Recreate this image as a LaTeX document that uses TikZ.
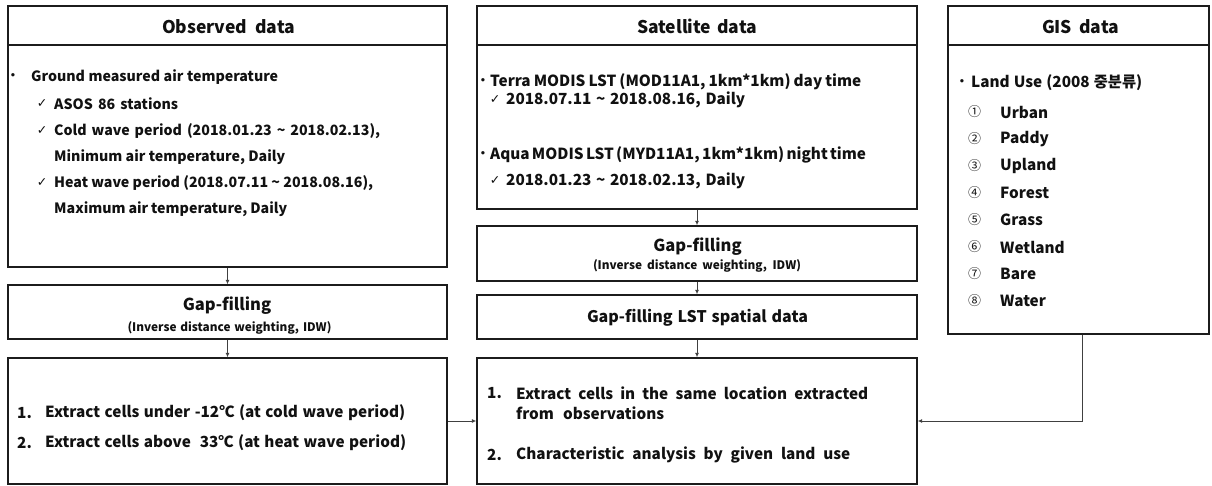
\documentclass[tikz,border=0pt]{standalone}
\usepackage{fontspec}
\setmainfont{Noto Sans CJK KR}
\newfontfamily\chk{DejaVu Sans}
\usetikzlibrary{arrows.meta}
\definecolor{ln}{HTML}{1C1C1C}
\definecolor{cn}{HTML}{404040}
\definecolor{tx}{HTML}{111111}
\newcommand{\sw}[2]{\makebox[#1pt][s]{#2}}
\begin{document}
\begin{tikzpicture}[x=1pt,y=-1pt,
  box/.style={draw=ln, line width=1.4pt, inner sep=0pt, fill=white},
  txt/.style={anchor=west, inner sep=0pt, text=tx, font=\bfseries\fontsize{14.2}{15}\selectfont},
  btxt/.style={txt, font=\bfseries\fontsize{15.3}{16}\selectfont},
  hdr/.style={inner sep=0pt, text=tx, font=\bfseries\fontsize{17.5}{18}\selectfont},
  gaptitle/.style={inner sep=0pt, text=tx, font=\bfseries\fontsize{16.5}{17}\selectfont},
  sub/.style={inner sep=0pt, text=tx, font=\bfseries\fontsize{11.8}{12}\selectfont},
  chkmark/.style={anchor=center, inner sep=0pt, text=tx, font=\chk\fontsize{12.5}{13}\selectfont},
  bul/.style={anchor=center, inner sep=0pt, text=tx, font=\chk\fontsize{11.5}{12}\selectfont},
  circ/.style={anchor=center, inner sep=0pt, text=tx, font=\fontsize{13}{13}\selectfont},
  conn/.style={draw=cn, line width=0.9pt, -{Latex[length=4.5pt,width=4pt]}}]
\useasboundingbox[fill=white] (0,0) rectangle (1212,486);

% ---------- boxes ----------
\node[box, minimum width=439, minimum height=39] (obsH) at (227.5,25.5) {};
\node[box, minimum width=439, minimum height=222] (obsB) at (227.5,156) {};
\node[box, minimum width=439, minimum height=54] (obsG) at (227.5,312) {};
\node[box, minimum width=439, minimum height=126] (obsE) at (227.5,421) {};

\node[box, minimum width=440, minimum height=39] (satH) at (697,25.5) {};
\node[box, minimum width=440, minimum height=164] (satB) at (697,127) {};
\node[box, minimum width=440, minimum height=55] (satG) at (697,253.5) {};
\node[box, minimum width=440, minimum height=44] (satL) at (697,317) {};
\node[box, minimum width=440, minimum height=126] (satE) at (697,421) {};

\node[box, minimum width=261, minimum height=39] (gisH) at (1078.5,25.5) {};
\node[box, minimum width=261, minimum height=289] (gisB) at (1078.5,189.5) {};

% ---------- headers ----------
\node[hdr] (obsHt) at (228.5,26.5) {\sw{133}{Observed data}};
\node[hdr] (satHt) at (697,26.5) {\sw{120}{Satellite data}};
\node[hdr] (gisHt) at (1080.5,26.5) {\sw{77}{GIS data}};

% ---------- observed body ----------
\node[bul] (ob1) at (13,77) {•};
\node[txt] (ot1) at (31,77) {\sw{247}{Ground measured air temperature}};
\node[chkmark] (om1) at (42,104) {✓};
\node[txt] (ot2) at (54,104) {\sw{124}{ASOS 86 stations}};
\node[chkmark] (om2) at (42,131) {✓};
\node[txt] (ot3) at (54,131) {\sw{326}{Cold wave period (2018.01.23 \textasciitilde\ 2018.02.13),}};
\node[txt] (ot4) at (54,157) {\sw{231}{Minimum air temperature, Daily}};
\node[chkmark] (om3) at (42,183) {✓};
\node[txt] (ot5) at (54,183) {\sw{319}{Heat wave period (2018.07.11 \textasciitilde\ 2018.08.16),}};
\node[txt] (ot6) at (54,209) {\sw{233}{Maximum air temperature, Daily}};

% ---------- observed gap filling ----------
\node[gaptitle] (ogt) at (227,306) {Gap-filling};
\node[sub] (ogs) at (229.5,328) {\sw{204}{(Inverse distance weighting, IDW)}};

% ---------- observed extract ----------
\node[btxt] (oe1n) at (17,413) {1.};
\node[btxt] (oe1) at (45,413) {\sw{360}{Extract cells under -12℃ (at cold wave period)}};
\node[btxt] (oe2n) at (17,443) {2.};
\node[btxt] (oe2) at (45,443) {\sw{361}{Extract cells above\ \ 33℃ (at heat wave period)}};

% ---------- satellite body ----------
\node[bul] (sb1) at (483,82) {•};
\node[btxt] (st1) at (490,82) {\sw{371}{Terra MODIS LST (MOD11A1, 1km*1km) day time}};
\node[chkmark] (sm1) at (495,100) {✓};
\node[btxt] (st2) at (506,100) {\sw{239}{2018.07.11 \textasciitilde\ 2018.08.16, Daily}};
\node[bul] (sb2) at (483,155) {•};
\node[btxt] (st3) at (490,155) {\sw{373}{Aqua MODIS LST (MYD11A1, 1km*1km) night time}};
\node[chkmark] (sm2) at (495,181) {✓};
\node[btxt] (st4) at (506,181) {\sw{239}{2018.01.23 \textasciitilde\ 2018.02.13, Daily}};

% ---------- satellite gap filling ----------
\node[gaptitle] (sgt) at (697.5,247) {Gap-filling};
\node[sub] (sgs) at (697,266) {\sw{208}{(Inverse distance weighting, IDW)}};
\node[hdr, font=\bfseries\fontsize{16}{17}\selectfont] (slt) at (697.5,318) {\sw{221}{Gap-filling LST spatial data}};

% ---------- satellite extract ----------
\node[btxt] (se1n) at (487,393) {1.};
\node[btxt] (se1) at (516,393) {\sw{352}{Extract cells in the same location extracted}};
\node[btxt] (se1b) at (516,413) {\sw{148}{from observations}};
\node[btxt] (se2n) at (487,455) {2.};
\node[btxt] (se2) at (516,455) {\sw{334}{Characteristic analysis by given land use}};

% ---------- GIS body ----------
\node[bul] (gb1) at (962,83) {•};
\node[btxt] (gt0) at (971,83) {\sw{171}{Land Use (2008 중분류)}};
\foreach \n/\c/\w/\y in {1/①/Urban/112, 2/②/Paddy/139, 3/③/Upland/166, 4/④/Forest/193, 5/⑤/Grass/220, 6/⑥/Wetland/247, 7/⑦/Bare/274, 8/⑧/Water/301} {
  \node[circ] (gc\n) at (974.5,\y) {\c};
  \node[btxt] (gw\n) at (1000,\y) {\w};
}

% ---------- connectors ----------
\draw[conn] (obsB.south) -- (obsG.north);
\draw[conn] (obsG.south) -- (obsE.north);
\draw[conn] (satB.south) -- (satG.north);
\draw[conn] (satG.south) -- (satL.north);
\draw[conn] (satL.south) -- (satE.north);
\draw[conn] (obsE.east) -- (satE.west);
\coordinate (gdrop) at ([xshift=3.5pt]gisB.south);
\draw[conn] (gdrop) |- (satE.east);
\end{tikzpicture}
\end{document}
